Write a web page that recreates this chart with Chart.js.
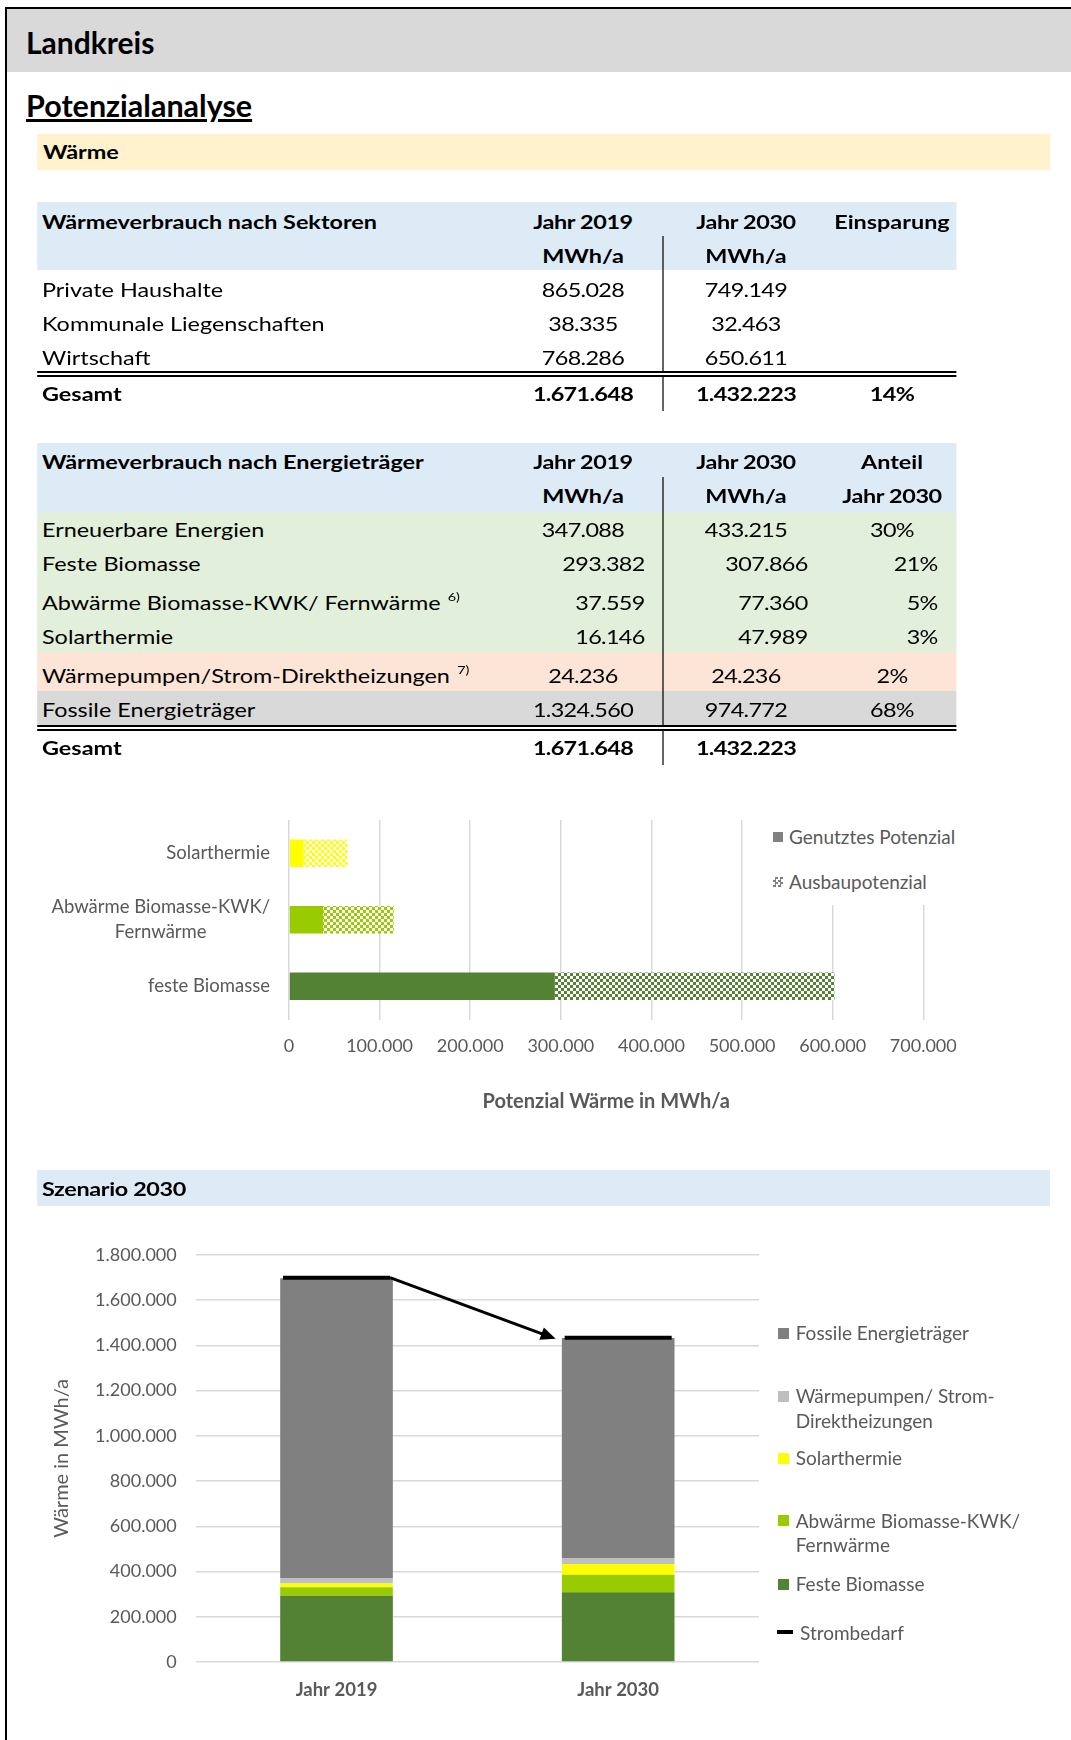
<!DOCTYPE html>
<html lang="de">
<head>
<meta charset="utf-8">
<title>Landkreis – Potenzialanalyse Wärme</title>
<script src="https://cdn.jsdelivr.net/npm/chart.js@4.4.1/dist/chart.umd.min.js"></script>
<style>
html,body{margin:0;padding:0;background:#fff;}
body{width:1071px;height:1740px;position:relative;overflow:hidden;font-family:Lato,"Open Sans",sans-serif;color:#000;}
.box{position:absolute;}
.t{position:absolute;white-space:nowrap;}
#frame{position:absolute;left:5px;top:7px;width:1200px;height:1800px;border-left:2px solid #000;border-top:2px solid #000;box-sizing:border-box;}
#stretch{position:absolute;left:0;top:0;width:893px;height:1740px;transform:scaleX(1.2);transform-origin:0 0;}
canvas{position:absolute;}
</style>
</head>
<body>
<div class="box" style="left:7px;top:9px;width:1064px;height:63px;background:#d9d9d9;"></div>
<div id="frame"></div>
<div class="t" style="left:26px;top:24px;font-size:30px;line-height:36px;font-weight:700;">Landkreis</div>
<div class="t" style="left:26px;top:87px;font-size:30.5px;line-height:36px;font-weight:700;text-decoration:underline;text-decoration-thickness:2.5px;text-underline-offset:2px;">Potenzialanalyse</div>
<div id="stretch"></div>

<canvas id="potChart" width="1000" height="340" style="left:30px;top:790px;width:1000px;height:340px;"></canvas>
<div id="potLegend" class="box" style="left:765px;top:812px;width:200px;height:93px;background:#fff;"></div>

<canvas id="scenChart" width="1013" height="500" style="left:37px;top:1225px;width:1013px;height:500px;"></canvas>
<div id="scenLegend" class="box" style="left:0;top:0;"></div>

<script>
// ---------------- DATA ----------------
const sectorLabels = ['Private Haushalte', 'Kommunale Liegenschaften', 'Wirtschaft'];
const sector2019 = ['865.028', '38.335', '768.286'];
const sector2030 = ['749.149', '32.463', '650.611'];
const sectorTotals = ['1.671.648', '1.432.223', '14%'];

const carrierLabels = ['Erneuerbare Energien', 'Feste Biomasse', 'Abwärme Biomasse-KWK/ Fernwärme', 'Solarthermie', 'Wärmepumpen/Strom-Direktheizungen', 'Fossile Energieträger'];
const carrierNotes = ['', '', '6)', '', '7)', ''];
const carrier2019 = ['347.088', '293.382', '37.559', '16.146', '24.236', '1.324.560'];
const carrier2030 = ['433.215', '307.866', '77.360', '47.989', '24.236', '974.772'];
const carrierShare = ['30%', '21%', '5%', '3%', '2%', '68%'];
const carrierTotals = ['1.671.648', '1.432.223'];

const potCategories = ['Solarthermie', ['Abwärme Biomasse-KWK/', 'Fernwärme'], 'feste Biomasse'];
const potUsed = [16146, 37559, 293382];
const potExpansion = [48400, 78000, 308500];
const potSeriesNames = ['Genutztes Potenzial', 'Ausbaupotenzial'];
const potAxisMax = 700000;
const potTickStep = 100000;

const scenCategories = ['Jahr 2019', 'Jahr 2030'];
const scenFesteBiomasse = [293382, 307866];
const scenAbwaerme = [37559, 77360];
const scenSolar = [16146, 47989];
const scenWaermepumpen = [24236, 24236];
const scenFossil = [1324560, 974772];
const scenStrombedarf = [1699000, 1433000];
const scenAxisMax = 1800000;
const scenTickStep = 200000;

// ---------------- helpers ----------------
const fmt = v => String(v).replace(/\B(?=(\d{3})+(?!\d))/g, '.');
const S = 1.2;
const st = document.getElementById('stretch');
function band(x0, y0, x1, y1, color) {
  const d = document.createElement('div');
  d.className = 'box';
  d.style.cssText = `left:${x0 / S}px;top:${y0}px;width:${(x1 - x0) / S}px;height:${y1 - y0}px;background:${color};`;
  st.appendChild(d);
}
function txt(parent, x, cy, html, o = {}) {
  const size = o.size || 19.5, lh = o.lh || 26, scale = o.scale === undefined ? S : o.scale;
  const d = document.createElement('div');
  d.className = 't';
  const X = x / scale;
  let css = `top:${cy - lh / 2}px;line-height:${lh}px;font-size:${size}px;font-weight:${o.bold ? 700 : 400};color:${o.color || '#000'};`;
  if (o.ls) css += `letter-spacing:${o.ls}px;`;
  if (o.align === 'center') css += `left:${X - 300}px;width:600px;text-align:center;`;
  else if (o.align === 'right') css += `left:${X - 600}px;width:600px;text-align:right;`;
  else css += `left:${X}px;`;
  d.style.cssText = css;
  d.innerHTML = o.ls && o.align === 'right' ? `<span style="margin-right:${o.ls}px">${html}</span>` : html;
  parent.appendChild(d);
}
const note = n => n ? `<span style="font-size:12px;position:relative;top:-9px;margin-left:6px;">${n}</span>` : '';
const NUM = -0.55;

// ---------------- sections & tables ----------------
band(37, 134, 1050, 170, '#fff2cc');
txt(st, 43, 152, 'Wärme', {bold: true});

// Table 1
band(37, 202, 957, 270, '#ddebf7');
band(37, 371, 957, 373.2, '#000');
band(37, 375, 957, 376.6, '#000');
band(662, 236, 663.6, 371, '#000');
band(662, 377, 663.6, 411, '#000');
const C19 = 583, C30 = 746, C3 = 892;
txt(st, 42, 222, 'Wärmeverbrauch nach Sektoren', {bold: true});
txt(st, C19, 222, 'Jahr 2019', {bold: true, align: 'center', ls: -0.3});
txt(st, C30, 222, 'Jahr 2030', {bold: true, align: 'center', ls: -0.3});
txt(st, C3, 222, 'Einsparung', {bold: true, align: 'center'});
txt(st, C19, 256, 'MWh/a', {bold: true, align: 'center'});
txt(st, C30, 256, 'MWh/a', {bold: true, align: 'center'});
const t1Rows = [289.5, 324, 357.5];
sectorLabels.forEach((l, i) => {
  txt(st, 42, t1Rows[i], l);
  txt(st, C19, t1Rows[i], sector2019[i], {align: 'center', ls: NUM});
  txt(st, C30, t1Rows[i], sector2030[i], {align: 'center', ls: NUM});
});
txt(st, 42, 393.5, 'Gesamt', {bold: true});
txt(st, C19, 393.5, sectorTotals[0], {bold: true, align: 'center', ls: NUM});
txt(st, C30, 393.5, sectorTotals[1], {bold: true, align: 'center', ls: NUM});
txt(st, C3, 393.5, sectorTotals[2], {bold: true, align: 'center', ls: NUM});

// Table 2
band(37, 443, 957, 512, '#ddebf7');
band(37, 512, 957, 652, '#e2efda');
band(37, 652, 957, 691, '#fce4d6');
band(37, 691, 957, 725, '#d9d9d9');
band(37, 725, 957, 727.2, '#000');
band(37, 729, 957, 730.6, '#000');
band(662, 477, 663.6, 725, '#000');
band(662, 731, 663.6, 765, '#000');
txt(st, 42, 462, 'Wärmeverbrauch nach Energieträger', {bold: true});
txt(st, C19, 462, 'Jahr 2019', {bold: true, align: 'center', ls: -0.3});
txt(st, C30, 462, 'Jahr 2030', {bold: true, align: 'center', ls: -0.3});
txt(st, C3, 462, 'Anteil', {bold: true, align: 'center'});
txt(st, C19, 496, 'MWh/a', {bold: true, align: 'center'});
txt(st, C30, 496, 'MWh/a', {bold: true, align: 'center'});
txt(st, C3, 496, 'Jahr 2030', {bold: true, align: 'center', ls: -0.3});
const t2Rows = [530, 564, 603, 637, 676, 710];
const rightAligned = [false, true, true, true, false, false];
carrierLabels.forEach((l, i) => {
  txt(st, 42, t2Rows[i], l + note(carrierNotes[i]));
  if (rightAligned[i]) {
    txt(st, 644, t2Rows[i], carrier2019[i], {align: 'right', ls: NUM});
    txt(st, 807, t2Rows[i], carrier2030[i], {align: 'right', ls: NUM});
    txt(st, 937, t2Rows[i], carrierShare[i], {align: 'right', ls: NUM});
  } else {
    txt(st, C19, t2Rows[i], carrier2019[i], {align: 'center', ls: NUM});
    txt(st, C30, t2Rows[i], carrier2030[i], {align: 'center', ls: NUM});
    txt(st, C3, t2Rows[i], carrierShare[i], {align: 'center', ls: NUM});
  }
});
txt(st, 42, 748, 'Gesamt', {bold: true});
txt(st, C19, 748, carrierTotals[0], {bold: true, align: 'center', ls: NUM});
txt(st, C30, 748, carrierTotals[1], {bold: true, align: 'center', ls: NUM});

band(37, 1170, 1050, 1206, '#ddebf7');
txt(st, 42, 1188.5, 'Szenario 2030', {bold: true, ls: -0.3});

// ---------------- charts ----------------
const GRAY_TXT = '#595959';
const GRID = '#d9d9d9';
const YELLOW = '#ffff00', LIME = '#99cc00', DKGREEN = '#548235';
Chart.defaults.font.family = 'Lato';
Chart.defaults.color = GRAY_TXT;

function checker(color) {
  const c = document.createElement('canvas');
  c.width = 6; c.height = 6;
  const g = c.getContext('2d');
  g.fillStyle = color; g.fillRect(0, 0, 6, 6);
  g.fillStyle = '#ffffff'; g.fillRect(0, 0, 3, 3); g.fillRect(3, 3, 3, 3);
  return g.createPattern(c, 'repeat');
}

const potColors = [YELLOW, LIME, DKGREEN];

const catLabelPlugin = {
  id: 'catLabels',
  afterDraw(chart) {
    const ys = chart.scales.y, ctx = chart.ctx;
    ctx.save();
    ctx.font = '18.5px Lato';
    ctx.fillStyle = GRAY_TXT;
    ctx.textAlign = 'center';
    ctx.textBaseline = 'middle';
    const right = chart.chartArea.left - 19;
    potCategories.forEach((lab, i) => {
      const lines = Array.isArray(lab) ? lab : [lab];
      const w = Math.max(...lines.map(l => ctx.measureText(l).width));
      const cx = right - w / 2, cy = ys.getPixelForValue(i);
      lines.forEach((l, j) => ctx.fillText(l, cx, cy + (j - (lines.length - 1) / 2) * 25.5));
    });
    ctx.restore();
  }
};

new Chart(document.getElementById('potChart'), {
  type: 'bar',
  data: {
    labels: potCategories,
    datasets: [
      {label: potSeriesNames[0], data: potUsed, backgroundColor: potColors, borderWidth: 0},
      {label: potSeriesNames[1], data: potExpansion, backgroundColor: potColors.map(checker), borderWidth: 0}
    ]
  },
  options: {
    indexAxis: 'y',
    responsive: false,
    animation: false,
    devicePixelRatio: 1,
    events: [],
    barPercentage: 0.414,
    categoryPercentage: 1,
    layout: {autoPadding: false, padding: {top: 30, right: 106.7, left: 0, bottom: 0}},
    plugins: {legend: {display: false}, tooltip: {enabled: false}},
    scales: {
      y: {
        stacked: true,
        grid: {display: false},
        border: {display: false},
        ticks: {display: false},
        afterFit: s => { s.width = 259; }
      },
      x: {
        stacked: true,
        min: 0, max: potAxisMax,
        grid: {color: GRID, lineWidth: 1.5, drawTicks: false},
        border: {display: false},
        ticks: {stepSize: potTickStep, padding: 16, font: {size: 18}, color: GRAY_TXT, callback: v => fmt(v)},
        title: {display: true, text: 'Potenzial Wärme in MWh/a', font: {size: 20, weight: 'bold'}, color: GRAY_TXT, padding: {top: 0, bottom: 16}},
        afterFit: s => { s.height = 110.5; }
      }
    }
  },
  plugins: [catLabelPlugin]
});

// legend chart 1
(function () {
  const lg = document.getElementById('potLegend');
  const icons = ['background:#808080;', 'background:repeating-conic-gradient(#808080 0 25%, #ffffff 0 50%) 0 0/5px 5px;'];
  const cys = [836.7, 881.7];
  potSeriesNames.forEach((n, i) => {
    const ic = document.createElement('div');
    ic.className = 'box';
    ic.style.cssText = `left:${772.7 - 765}px;top:${cys[i] - 5.2 - 812}px;width:10px;height:10px;` + icons[i];
    lg.appendChild(ic);
    txt(lg, 789 - 765, cys[i] - 812, n, {size: 19, color: GRAY_TXT, scale: 1});
  });
})();

// chart 2
const scenDatasets = [
  {label: 'Feste Biomasse', data: scenFesteBiomasse, backgroundColor: DKGREEN},
  {label: 'Abwärme Biomasse-KWK/ Fernwärme', data: scenAbwaerme, backgroundColor: LIME},
  {label: 'Solarthermie', data: scenSolar, backgroundColor: YELLOW},
  {label: 'Wärmepumpen/ Strom-Direktheizungen', data: scenWaermepumpen, backgroundColor: '#bfbfbf'},
  {label: 'Fossile Energieträger', data: scenFossil, backgroundColor: '#808080'}
].map(d => Object.assign(d, {type: 'bar', stack: 'heat', order: 1, borderWidth: 0}));

const stromDataset = {
  type: 'line', label: 'Strombedarf', data: scenStrombedarf, stack: 'strom', order: 0,
  showLine: false, pointStyle: 'line', pointRadius: 53.5, pointHoverRadius: 53.5,
  pointBorderWidth: 4, pointBorderColor: '#000', borderColor: '#000', backgroundColor: '#000'
};

const arrowPlugin = {
  id: 'arrow',
  afterDatasetsDraw(chart) {
    const idx = chart.data.datasets.indexOf(stromDataset);
    const meta = chart.getDatasetMeta(idx);
    const p0 = meta.data[0], p1 = meta.data[1];
    const r = stromDataset.pointRadius;
    const x0 = p0.x + r, y0 = p0.y;
    const x1 = p1.x - r - 9, y1 = p1.y + 1;
    const ang = Math.atan2(y1 - y0, x1 - x0);
    const hl = 15, hw = 6.5;
    const bx = x1 - Math.cos(ang) * hl, by = y1 - Math.sin(ang) * hl;
    const ctx = chart.ctx;
    ctx.save();
    ctx.strokeStyle = '#000'; ctx.fillStyle = '#000'; ctx.lineWidth = 3;
    ctx.beginPath(); ctx.moveTo(x0, y0); ctx.lineTo(bx + Math.cos(ang) * 2, by + Math.sin(ang) * 2); ctx.stroke();
    ctx.beginPath();
    ctx.moveTo(x1, y1);
    ctx.lineTo(bx + Math.sin(ang) * hw, by - Math.cos(ang) * hw);
    ctx.lineTo(bx - Math.sin(ang) * hw, by + Math.cos(ang) * hw);
    ctx.closePath(); ctx.fill();
    ctx.restore();
  }
};

new Chart(document.getElementById('scenChart'), {
  type: 'bar',
  data: {labels: scenCategories, datasets: [...scenDatasets, stromDataset]},
  options: {
    responsive: false,
    animation: false,
    devicePixelRatio: 1,
    events: [],
    barPercentage: 0.4,
    categoryPercentage: 1,
    layout: {autoPadding: false, padding: {top: 23, right: 291, left: 0, bottom: 0}},
    plugins: {legend: {display: false}, tooltip: {enabled: false}},
    scales: {
      x: {
        stacked: true,
        grid: {display: false},
        border: {display: false},
        ticks: {padding: 9, font: {size: 18.5, weight: 'bold'}, color: GRAY_TXT},
        afterFit: s => { s.height = 63; }
      },
      y: {
        stacked: true,
        min: 0, max: scenAxisMax,
        grid: {color: GRID, lineWidth: 1.5, drawTicks: false},
        border: {display: false},
        ticks: {stepSize: scenTickStep, padding: 19, font: {size: 18}, color: GRAY_TXT, callback: v => fmt(v)},
        title: {display: true, text: 'Wärme in MWh/a', font: {size: 20}, color: GRAY_TXT, padding: {top: 13, bottom: 0}},
        afterFit: s => { s.width = 158.7; }
      }
    }
  },
  plugins: [arrowPlugin]
});

// legend chart 2 (top to bottom: reverse stacking order, then Strombedarf)
(function () {
  const lg = document.getElementById('scenLegend');
  const entries = [
    {ds: scenDatasets[4], lines: ['Fossile Energieträger'], cy: 1333},
    {ds: scenDatasets[3], lines: ['Wärmepumpen/ Strom-', 'Direktheizungen'], cy: 1396},
    {ds: scenDatasets[2], lines: ['Solarthermie'], cy: 1458},
    {ds: scenDatasets[1], lines: ['Abwärme Biomasse-KWK/', 'Fernwärme'], cy: 1520.7},
    {ds: scenDatasets[0], lines: ['Feste Biomasse'], cy: 1584}
  ];
  entries.forEach(e => {
    const ic = document.createElement('div');
    ic.className = 'box';
    ic.style.cssText = `left:778px;top:${e.cy - 5.5}px;width:11px;height:11px;background:${e.ds.backgroundColor};`;
    lg.appendChild(ic);
    e.lines.forEach((l, j) => txt(lg, 795.7, e.cy + j * 24.7, l, {size: 19, color: GRAY_TXT, scale: 1}));
  });
  const li = document.createElement('div');
  li.className = 'box';
  li.style.cssText = 'left:777px;top:1629.8px;width:15.7px;height:3.8px;background:#000;';
  lg.appendChild(li);
  txt(lg, 800, 1632.7, stromDataset.label, {size: 19, color: GRAY_TXT, scale: 1});
})();
</script>
</body>
</html>
